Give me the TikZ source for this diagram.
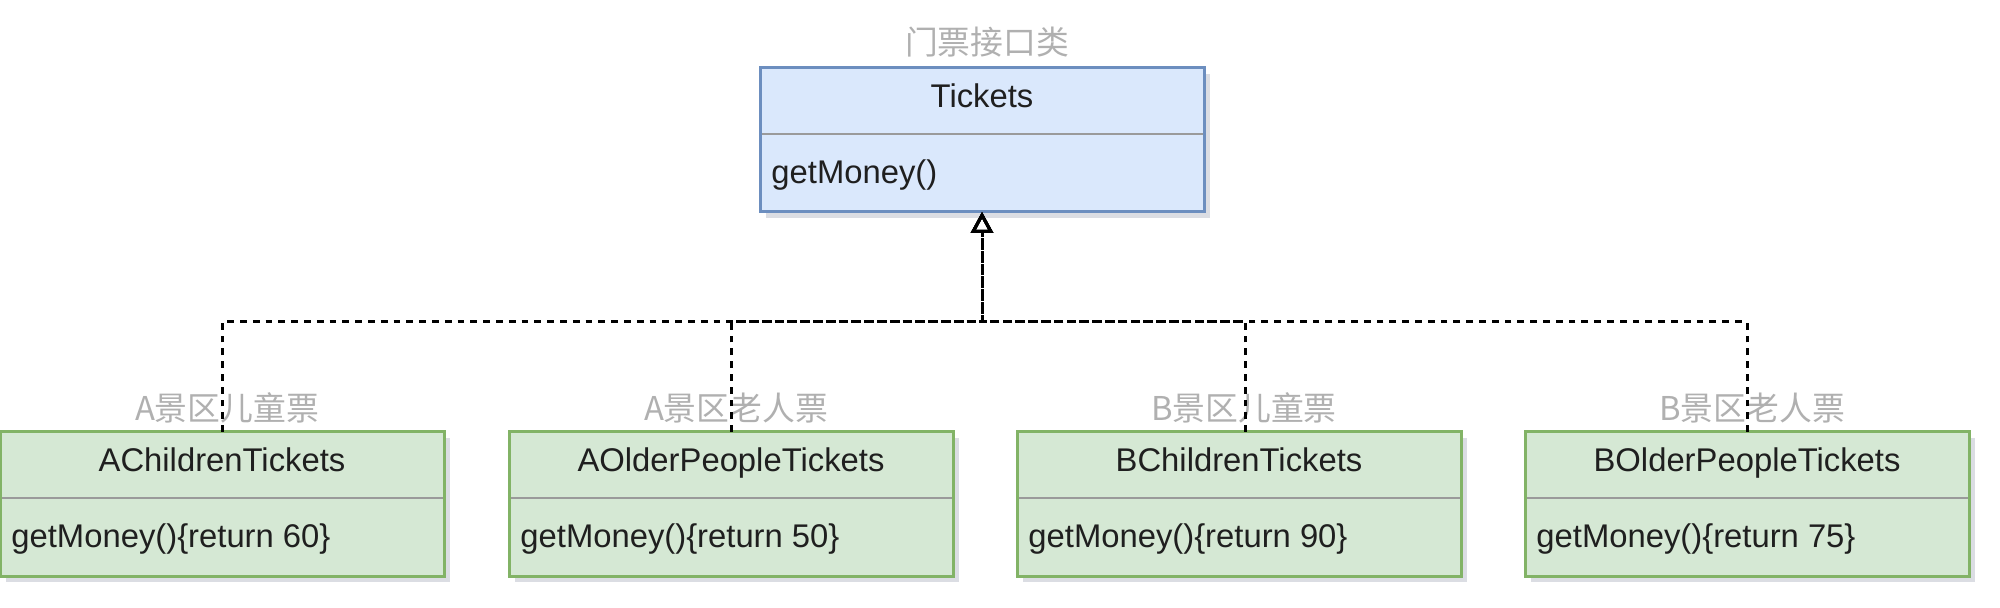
\documentclass[tikz,border=0pt]{standalone}
\usepackage{fontspec}
\setmainfont{Liberation Sans}
\newfontfamily\cjk{Noto Sans CJK SC}
\usetikzlibrary{arrows.meta,shadows}
\definecolor{ifill}{HTML}{DAE8FC}
\definecolor{istroke}{HTML}{6C8EBF}
\definecolor{gfill}{HTML}{D5E8D4}
\definecolor{gstroke}{HTML}{82B366}
\definecolor{divc}{HTML}{9A9A9A}
\definecolor{lblc}{HTML}{B0B0B0}
\definecolor{shc}{HTML}{5A6480}
\begin{document}
\begin{tikzpicture}[x=0.5pt,y=-0.5pt,
  txt/.style={font=\fontsize{16.4pt}{19pt}\selectfont, inner sep=0pt, text=black!88},
  lbl/.style={font=\cjk\fontsize{16.4pt}{19pt}\selectfont, inner sep=0pt, text=lblc},
  cls/.style={draw, line width=1.5pt, minimum width=222pt, minimum height=72pt,
    inner sep=0pt, outer sep=0pt,
    drop shadow={shadow xshift=3pt, shadow yshift=-3pt, opacity=0.22, fill=shc}},
  iface/.style={cls, fill=ifill, draw=istroke},
  impl/.style={cls, fill=gfill, draw=gstroke},
  divline/.style={draw=divc, line width=1.3pt},
  gen/.style={draw=black, line width=1.5pt, dash pattern=on 3.4pt off 3pt,
    -{Triangle[open, length=10.5pt, width=11pt]}}
]
\useasboundingbox (0,0) rectangle (2000,608);

% interface
\node[iface] (t) at (982,140) {};
\draw[divline] ([xshift=0.75pt,yshift=-33pt]t.north west) -- ([xshift=-0.75pt,yshift=-33pt]t.north east);
\node[txt, anchor=base] (tn) at ([yshift=-19.6pt]t.north) {Tickets};
\node[txt, anchor=base west] (tm) at ([xshift=5.5pt,yshift=-58pt]t.north west) {getMoney()};
\node[lbl] (lt) at ([xshift=2.5pt,yshift=13pt]t.north) {门票接口类};

% implementations
\foreach \nm/\cx/\title/\val/\lab in {
  ac/222/AChildrenTickets/60/A景区儿童票,
  ao/731/AOlderPeopleTickets/50/A景区老人票,
  bc/1239/BChildrenTickets/90/B景区儿童票,
  bo/1747/BOlderPeopleTickets/75/B景区老人票}{
  \node[impl] (\nm) at (\cx,504) {};
  \draw[divline] ([xshift=0.75pt,yshift=-33pt]\nm.north west) -- ([xshift=-0.75pt,yshift=-33pt]\nm.north east);
  \node[txt, anchor=base] (\nm-n) at ([yshift=-19.8pt]\nm.north) {\title};
  \node[txt, anchor=base west] (\nm-m) at ([xshift=5.5pt,yshift=-57.5pt]\nm.north west) {getMoney()\{return \val\}};
  \node[lbl] (\nm-l) at ([xshift=2.5pt,yshift=12pt]\nm.north) {\lab};
}

% connectors
\coordinate (jy) at (0,322);
\coordinate (j) at (t.south |- jy);
\coordinate (bcp) at ([xshift=3pt]bc.north);
\draw[gen] (ac.north) |- (j) -- (t.south);
\draw[gen] (ao.north) |- (j) -- (t.south);
\draw[gen] (bcp) |- (j) -- (t.south);
\draw[gen] (bo.north) |- (j) -- (t.south);
\end{tikzpicture}
\end{document}
